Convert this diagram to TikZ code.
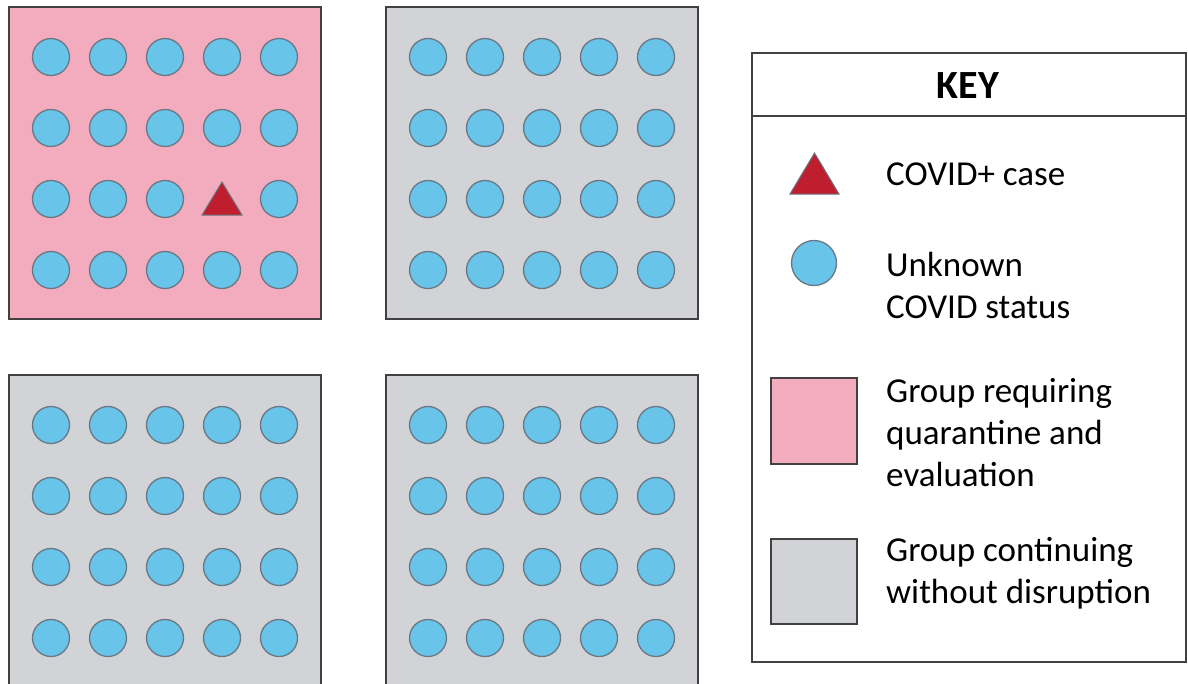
\documentclass[tikz,border=0pt]{standalone}
\usepackage{fontspec}
\setmainfont{Carlito}
\definecolor{pinkq}{RGB}{242,172,190}
\definecolor{grayg}{RGB}{209,211,214}
\definecolor{bluec}{RGB}{104,196,233}
\definecolor{redt}{RGB}{190,30,45}
\definecolor{edgec}{RGB}{105,120,132}
\definecolor{boxedge}{RGB}{65,65,65}
\begin{document}
\begin{tikzpicture}[x=1pt,y=-1pt,
  person/.style={circle,draw=edgec,fill=bluec,line width=1.3pt,minimum size=37pt,inner sep=0pt},
  casemark/.style={draw=edgec,fill=redt,line width=1pt,line join=miter},
  groupbox/.style={draw=boxedge,line width=1.8pt},
  keytext/.style={font=\fontsize{35}{42}\selectfont,align=left,anchor=base west,inner sep=0pt},
  keytitle/.style={font=\fontsize{40}{48}\selectfont\bfseries,inner sep=0pt}]
\useasboundingbox (0,0) rectangle (1188,683);
\clip (0,0) rectangle (1188,683);
% groups
\draw[groupbox,fill=pinkq] (9,7) rectangle (321,319);
\draw[groupbox,fill=grayg] (386,7) rectangle (698,319);
\draw[groupbox,fill=grayg] (9,375) rectangle (321,687);
\draw[groupbox,fill=grayg] (386,375) rectangle (698,687);
\foreach \gn/\ox/\oy in {1/9/7,2/386/7,3/9/375,4/386/375}{
  \foreach \i in {0,...,4}{
    \foreach \j in {0,...,3}{
      \pgfmathsetmacro{\cx}{\ox+42+57*\i}
      \pgfmathsetmacro{\cy}{\oy+50+71*\j}
      \ifnum\gn\i\j=132\relax
      \else
        \node[person] (g\gn-\i-\j) at (\cx,\cy) {};
      \fi
    }
  }
}
% COVID+ case in first group
\draw[casemark] (202,215) -- (222,182) -- (242,215) -- cycle;
% key
\draw[draw=boxedge,line width=1.8pt,fill=white] (752,53) rectangle (1186,662);
\draw[draw=boxedge,line width=1.8pt] (752,116) -- (1186,116);
\node[keytitle] (keyt) at (968,86) {KEY};
\draw[casemark] (790,194) -- (814.5,153) -- (839,194) -- cycle;
\node[keytext] (k1) at (886,185) {COVID+ case};
\node[person,minimum size=45pt] (kc) at (814,263) {};
\node[keytext] (k2) at (886,318) {Unknown\\COVID status};
\draw[groupbox,fill=pinkq,line width=1.5pt] (771,378) rectangle (857,464);
\node[keytext] (k3) at (886,486) {Group requiring\\quarantine and\\evaluation};
\draw[groupbox,fill=grayg,line width=1.5pt] (771,539) rectangle (857,624);
\node[keytext] (k4) at (886,603) {Group continuing\\without disruption};
\end{tikzpicture}
\end{document}
